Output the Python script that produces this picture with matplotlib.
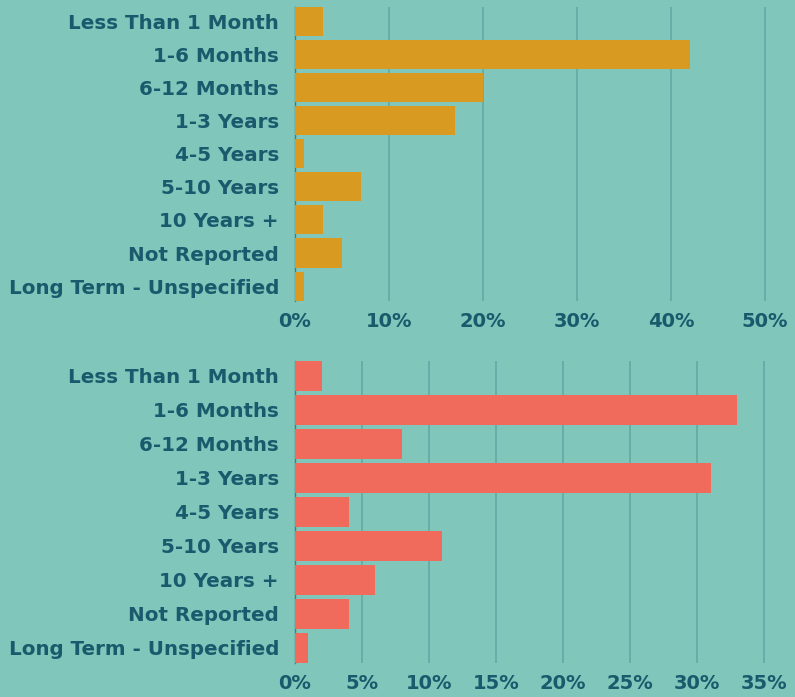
import matplotlib
matplotlib.use("Agg")
import matplotlib.pyplot as plt

# durations shown on both panels
categories = ["Less Than 1 Month", "1-6 Months", "6-12 Months", "1-3 Years",
              "4-5 Years", "5-10 Years", "10 Years +", "Not Reported",
              "Long Term - Unspecified"]
top_values = [3, 42, 20, 17, 1, 7, 3, 5, 1]
bottom_values = [2, 33, 8, 31, 4, 11, 6, 4, 1]
top_ticks = [0, 10, 20, 30, 40, 50]
bottom_ticks = [0, 5, 10, 15, 20, 25, 30, 35]

bg = "#80c6bb"
text_col = "#1b5a6c"
grid_col = "#62aaa6"

plt.rcParams["font.family"] = ["DejaVu Sans"]
plt.rcParams["font.weight"] = "bold"

fig = plt.figure(figsize=(7.95, 6.97), dpi=100, facecolor=bg)
ax1 = fig.add_axes([0.371, 0.5686, 0.629, 0.4218])
ax2 = fig.add_axes([0.371, 0.0492, 0.629, 0.4329])


def draw(ax, values, ticks, color, xmax):
    ax.set_facecolor(bg)
    ypos = list(range(len(categories)))
    ax.barh(ypos, values, height=0.88, color=color, zorder=3)
    ax.set_xlim(0, xmax)
    ax.set_ylim(len(categories) - 1 + 0.44, -0.44)
    ax.set_yticks(ypos)
    ax.set_yticklabels(categories)
    ax.set_xticks(ticks)
    ax.set_xticklabels([f"{t}%" for t in ticks])
    ax.tick_params(axis="y", length=0, pad=11.5, labelsize=14.3, labelcolor=text_col)
    ax.tick_params(axis="x", length=0, pad=8, labelsize=14, labelcolor=text_col)
    ax.grid(axis="x", color=grid_col, linewidth=1.2, zorder=0)
    for s in ["top", "right", "bottom"]:
        ax.spines[s].set_visible(False)
    ax.spines["left"].set_color("#3e7f86")
    ax.spines["left"].set_linewidth(1)
    ax.spines["left"].set_zorder(2)
    for lbl in ax.get_yticklabels() + ax.get_xticklabels():
        lbl.set_fontweight("bold")


draw(ax1, top_values, top_ticks, "#d99a22", 53.2)
draw(ax2, bottom_values, bottom_ticks, "#f06b5b", 37.3)

fig.savefig("out.png", dpi=100, facecolor=bg)
